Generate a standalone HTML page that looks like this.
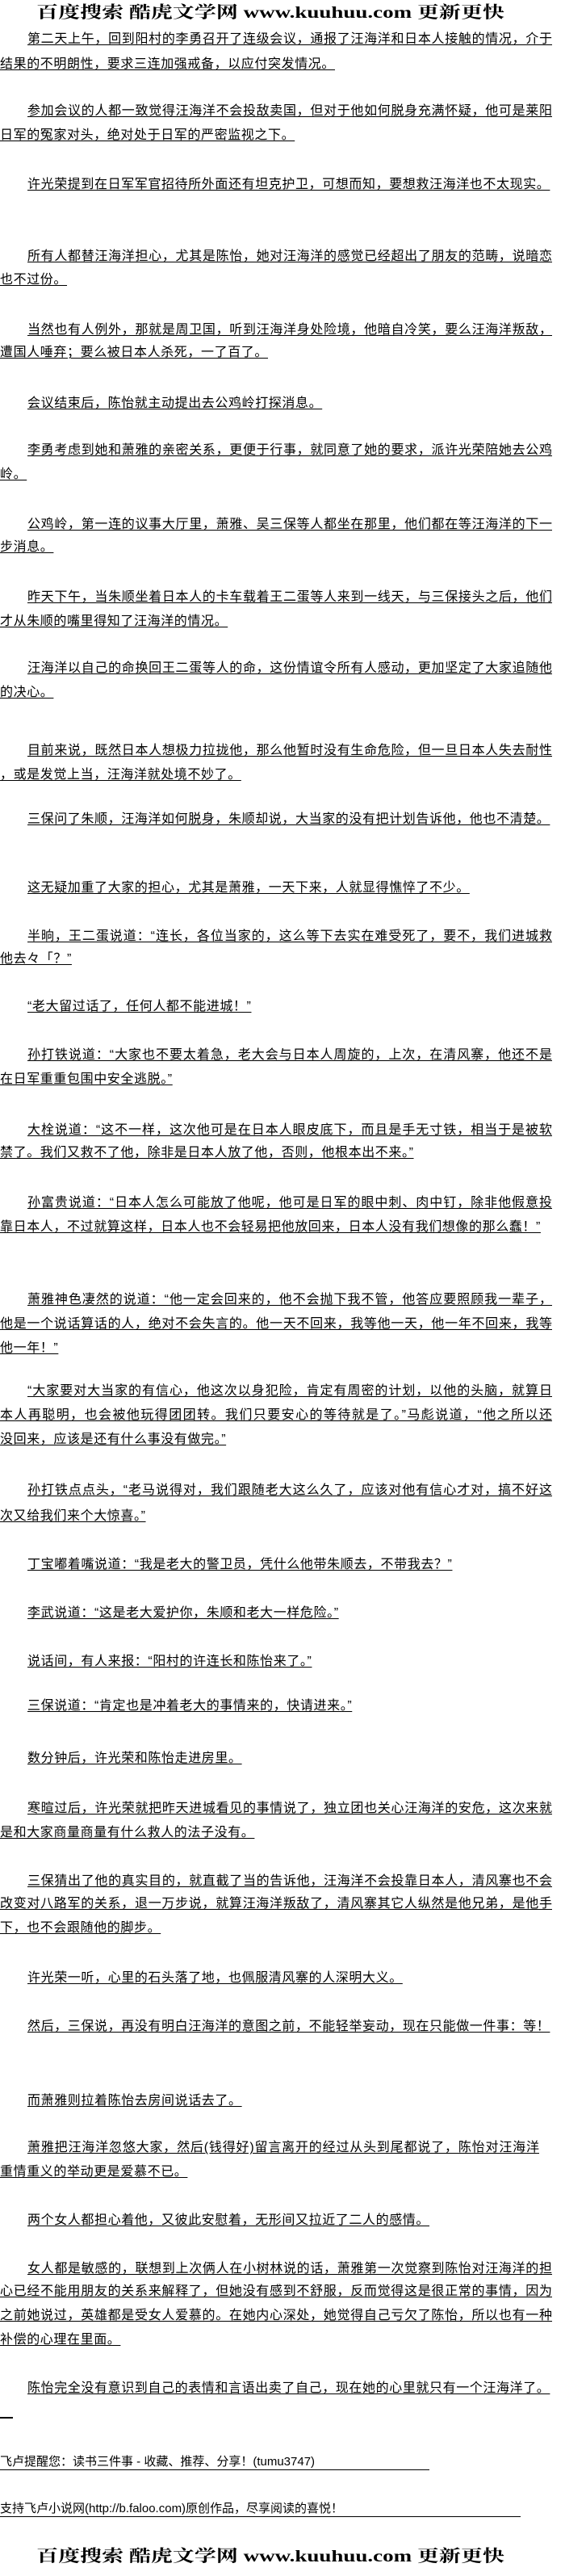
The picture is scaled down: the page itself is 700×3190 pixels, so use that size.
<!DOCTYPE html>
<html><head><meta charset="utf-8">
<style>
html,body{margin:0;padding:0;background:#fff;}
body{width:700px;height:3190px;position:relative;overflow:hidden;font-family:"Liberation Sans","Noto Sans CJK SC","WenQuanYi Zen Hei",sans-serif;color:#000;}
.l{position:absolute;height:18px;line-height:18px;font-size:16px;white-space:nowrap;letter-spacing:0.6px;text-decoration:underline;text-underline-offset:2px;left:0;}
.i{left:34px;}
.f{width:684px;text-align:justify;text-align-last:justify;white-space:normal;letter-spacing:0;}
.f.i{width:650px;}
.hd{position:absolute;left:38px;width:594px;height:26px;line-height:26px;font-family:"Liberation Serif","Noto Serif CJK SC",serif;font-weight:bold;font-size:27px;white-space:nowrap;transform:scaleY(0.75);transform-origin:center;text-align:center;}
.ft{position:absolute;left:0;height:18px;line-height:18px;font-size:15px;white-space:nowrap;border-bottom:1px solid #000;}
</style></head><body>
<div class="hd" style="top:2px">百度搜索 酷虎文学网 www.kuuhuu.com 更新更快</div>

<div class="l i f" style="top:40px">第二天上午，回到阳村的李勇召开了连级会议，通报了汪海洋和日本人接触的情况，介于</div>
<div class="l" style="top:71px">结果的不明朗性，要求三连加强戒备，以应付突发情况。</div>
<div class="l i f" style="top:129px">参加会议的人都一致觉得汪海洋不会投敌卖国，但对于他如何脱身充满怀疑，他可是莱阳</div>
<div class="l" style="top:159px">日军的冤家对头，绝对处于日军的严密监视之下。</div>
<div class="l i" style="top:220px">许光荣提到在日军军官招待所外面还有坦克护卫，可想而知，要想救汪海洋也不太现实。</div>
<div class="l i f" style="top:309px">所有人都替汪海洋担心，尤其是陈怡，她对汪海洋的感觉已经超出了朋友的范畴，说暗恋</div>
<div class="l" style="top:338px">也不过份。</div>
<div class="l i f" style="top:400px">当然也有人例外，那就是周卫国，听到汪海洋身处险境，他暗自冷笑，要么汪海洋叛敌，</div>
<div class="l" style="top:428px">遭国人唾弃；要么被日本人杀死，一了百了。</div>
<div class="l i" style="top:491px">会议结束后，陈怡就主动提出去公鸡岭打探消息。</div>
<div class="l i f" style="top:549px">李勇考虑到她和萧雅的亲密关系，更便于行事，就同意了她的要求，派许光荣陪她去公鸡</div>
<div class="l" style="top:579px">岭。</div>
<div class="l i f" style="top:641px">公鸡岭，第一连的议事大厅里，萧雅、吴三保等人都坐在那里，他们都在等汪海洋的下一</div>
<div class="l" style="top:669px">步消息。</div>
<div class="l i f" style="top:731px">昨天下午，当朱顺坐着日本人的卡车载着王二蛋等人来到一线天，与三保接头之后，他们</div>
<div class="l" style="top:761px">才从朱顺的嘴里得知了汪海洋的情况。</div>
<div class="l i f" style="top:819px">汪海洋以自己的命换回王二蛋等人的命，这份情谊令所有人感动，更加坚定了大家追随他</div>
<div class="l" style="top:849px">的决心。</div>
<div class="l i f" style="top:921px">目前来说，既然日本人想极力拉拢他，那么他暂时没有生命危险，但一旦日本人失去耐性</div>
<div class="l" style="top:951px">，或是发觉上当，汪海洋就处境不妙了。</div>
<div class="l i" style="top:1006px">三保问了朱顺，汪海洋如何脱身，朱顺却说，大当家的没有把计划告诉他，他也不清楚。</div>
<div class="l i" style="top:1091px">这无疑加重了大家的担心，尤其是萧雅，一天下来，人就显得憔悴了不少。</div>
<div class="l i f" style="top:1151px">半晌，王二蛋说道：“连长，各位当家的，这么等下去实在难受死了，要不，我们进城救</div>
<div class="l" style="top:1179px">他去々「？”</div>
<div class="l i" style="top:1238px">“老大留过话了，任何人都不能进城！”</div>
<div class="l i f" style="top:1298px">孙打铁说道：“大家也不要太着急，老大会与日本人周旋的，上次，在清风寨，他还不是</div>
<div class="l" style="top:1328px">在日军重重包围中安全逃脱。”</div>
<div class="l i f" style="top:1391px">大栓说道：“这不一样，这次他可是在日本人眼皮底下，而且是手无寸铁，相当于是被软</div>
<div class="l" style="top:1419px">禁了。我们又救不了他，除非是日本人放了他，否则，他根本出不来。”</div>
<div class="l i f" style="top:1481px">孙富贵说道：“日本人怎么可能放了他呢，他可是日军的眼中刺、肉中钉，除非他假意投</div>
<div class="l" style="top:1511px">靠日本人，不过就算这样，日本人也不会轻易把他放回来，日本人没有我们想像的那么蠢！”</div>
<div class="l i f" style="top:1601px">萧雅神色凄然的说道：“他一定会回来的，他不会抛下我不管，他答应要照顾我一辈子，</div>
<div class="l f" style="top:1631px">他是一个说话算话的人，绝对不会失言的。他一天不回来，我等他一天，他一年不回来，我等</div>
<div class="l" style="top:1661px">他一年！”</div>
<div class="l i f" style="top:1714px">“大家要对大当家的有信心，他这次以身犯险，肯定有周密的计划，以他的头脑，就算日</div>
<div class="l f" style="top:1744px">本人再聪明，也会被他玩得团团转。我们只要安心的等待就是了。”马彪说道，“他之所以还</div>
<div class="l" style="top:1774px">没回来，应该是还有什么事没有做完。”</div>
<div class="l i f" style="top:1837px">孙打铁点点头，“老马说得对，我们跟随老大这么久了，应该对他有信心才对，搞不好这</div>
<div class="l" style="top:1869px">次又给我们来个大惊喜。”</div>
<div class="l i" style="top:1929px">丁宝嘟着嘴说道：“我是老大的警卫员，凭什么他带朱顺去，不带我去？”</div>
<div class="l i" style="top:1989px">李武说道：“这是老大爱护你，朱顺和老大一样危险。”</div>
<div class="l i" style="top:2049px">说话间，有人来报：“阳村的许连长和陈怡来了。”</div>
<div class="l i" style="top:2104px">三保说道：“肯定也是冲着老大的事情来的，快请进来。”</div>
<div class="l i" style="top:2169px">数分钟后，许光荣和陈怡走进房里。</div>
<div class="l i f" style="top:2231px">寒暄过后，许光荣就把昨天进城看见的事情说了，独立团也关心汪海洋的安危，这次来就</div>
<div class="l" style="top:2261px">是和大家商量商量有什么救人的法子没有。</div>
<div class="l i f" style="top:2321px">三保猜出了他的真实目的，就直截了当的告诉他，汪海洋不会投靠日本人，清风寨也不会</div>
<div class="l f" style="top:2349px">改变对八路军的关系，退一万步说，就算汪海洋叛敌了，清风寨其它人纵然是他兄弟，是他手</div>
<div class="l" style="top:2379px">下，也不会跟随他的脚步。</div>
<div class="l i" style="top:2441px">许光荣一听，心里的石头落了地，也佩服清风寨的人深明大义。</div>
<div class="l i" style="top:2501px">然后，三保说，再没有明白汪海洋的意图之前，不能轻举妄动，现在只能做一件事：等！</div>
<div class="l i" style="top:2593px">而萧雅则拉着陈怡去房间说话去了。</div>
<div class="l i f" style="top:2651px;width:634px">萧雅把汪海洋忽悠大家，然后(钱得好)留言离开的经过从头到尾都说了，陈怡对汪海洋</div>
<div class="l" style="top:2681px">重情重义的举动更是爱慕不已。</div>
<div class="l i" style="top:2741px">两个女人都担心着他，又彼此安慰着，无形间又拉近了二人的感情。</div>
<div class="l i f" style="top:2801px">女人都是敏感的，联想到上次俩人在小树林说的话，萧雅第一次觉察到陈怡对汪海洋的担</div>
<div class="l f" style="top:2829px">心已经不能用朋友的关系来解释了，但她没有感到不舒服，反而觉得这是很正常的事情，因为</div>
<div class="l f" style="top:2859px">之前她说过，英雄都是受女人爱慕的。在她内心深处，她觉得自己亏欠了陈怡，所以也有一种</div>
<div class="l" style="top:2889px">补偿的心理在里面。</div>
<div class="l i" style="top:2949px">陈怡完全没有意识到自己的表情和言语出卖了自己，现在她的心里就只有一个汪海洋了。</div>
<div style="position:absolute;left:0;top:2993px;width:16px;height:2px;background:#000"></div>
<div class="ft" style="top:3040px;width:532px">飞卢提醒您：读书三件事 - 收藏、推荐、分享！(tumu3747)</div>
<div class="ft" style="top:3098px;width:645px">支持飞卢小说网(http://b.faloo.com)原创作品，尽享阅读的喜悦！</div>
<div class="hd" style="top:3152px">百度搜索 酷虎文学网 www.kuuhuu.com 更新更快</div>
</body></html>
